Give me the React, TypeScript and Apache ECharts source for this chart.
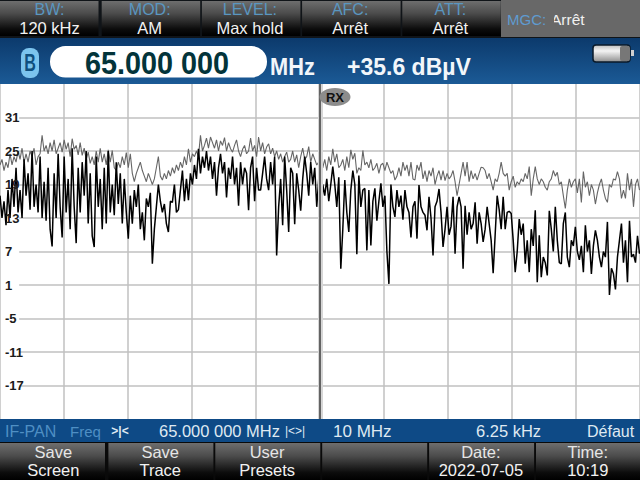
import React, { useEffect, useRef } from "react";
import * as echarts from "echarts";

const yTicks = [-17, -11, -5, 1, 7, 13, 19, 25, 31];
const gridRows = [-17, -11, -5, 1, 7, 13, 19, 25, 31];
const centerFreq = 65;
const spanStart = 60;
const spanEnd = 70;

const maxHold = [
  22.5,23.5,21.5,23,22,24.5,22.5,24,23,25,23.5,25.5,23,24.5,23,25,24,25.5,22.5,24,
  24.5,27.8,25,26,24.5,26.5,25,27,24.5,25.5,26.5,24.8,27,25.3,26.5,24,27.2,25.3,26,24.3,
  26.5,24.2,25.5,23.5,24.8,22.8,24,22.5,25,23,25.5,23,24.5,22.5,25.2,23,25.1,22,21.5,23,
  22,24,22.5,24.7,22,24.5,21,19.5,21,22,23,21.5,20.5,19.5,21,20,19,20,22,24,
  20.5,19.8,21,20,21.5,20.5,22,21,22.5,21.5,23,22,24,22.5,25.4,23,24.5,24,25,24,
  27.8,25,26,27.3,25.5,27.5,26.5,25.5,27,25,26.8,26,27.4,25,26.5,25.4,24.8,26,27,25,
  24,25.3,26,24.5,25,27.3,25,26,24,27.5,25,26.5,24.5,25.7,26.3,24.5,25.5,24,25,23.5,
  24.5,23,24,24.8,23,23.5,25,23,24.3,22,24,25.5,23.5,24,25.8,23,24.5,23.5,22.5,23,
  23.3,22,23.5,21.5,24,22.5,25.4,23,24.5,22,22.5,23.5,21.5,24,22,25.2,23.5,24.6,21,22,
  21.5,25.1,22.5,23,22,23.5,21.5,22,22.8,21,22.5,22.8,21.5,23,22,21,21.5,19.8,20.5,22,
  20.5,23,21.5,22.5,20.5,23,20,19.8,22.5,21.5,23,20,21.5,19.5,21.5,20.5,22,19,20.5,21.5,
  19.8,21.5,19.7,21,20,20.5,21.5,19.5,17,19,21,23,20.5,23,19.5,21.5,20,21,19.8,21,
  22.1,22,21.5,20,21,19.5,18,20,19.5,21,23,21,20.5,21,18,19.5,20.5,18.5,19.5,19,
  20,19.5,21,20,22.2,17,20,22.2,20,19,20,19.5,18.5,18,19.5,20,21.5,20.5,21.2,19,
  19.5,17,14.7,18,20,18.5,19.5,20,17.5,20,15.8,21.3,18.5,19.5,17,19,18,15.5,17.5,19,
  20,18,16.5,15.8,19,18.5,20,19.8,21.3,20,16.5,18,16.5,21,18,20,15,19,20,18,
];

const clearWrite = [
  17,13,16,11.7,18,13,20,15,22,14,18,13,23.5,17,21,14.5,25,15,19,14,
  24,13,19.5,12.5,22,11,7.9,21,13,24.5,15,9.5,24,14,20,11,25.5,15,8.5,22,
  14,23,17,25,12,21,9.8,7.8,24,15,20,11,22,12,25,14,19,13.5,23,15.5,
  21,12,20,14,9.3,17,12,18,15,19,11,14,9,16.5,15,17.5,4.8,11,15,19,
  16,14,15.5,12,10.5,16,15.8,19,14,14.5,18,21.5,16,20,16.2,21,19,22.5,20,25.4,
  21,24,22,25,21.5,24,20,23,17,22,24.5,21,23,16.7,22,20,24,19,22,15.2,
  23,19,22,21,14.4,22,24,16,22,18,18,21,24,20,18,23,19,24,6.3,15,
  20,11.7,24,18,10.5,22,21,11.9,21,18,14.3,20,24,21,17,23,19,22,15,20,
  9.9,19,17,20,16,19,22.2,19,15,20.3,3.9,11,19.8,14,10.5,18,21.5,19,6.5,20.6,
  15,18,18.3,7.2,18,8.1,16,18.3,12.5,16,19.2,15,17,7,1.2,19,15,13.2,18,15,
  17,12.7,18,15,14,9.5,15,16,9.3,18.9,15,14,13.5,10.8,16.8,13,6.3,15,16,18.2,
  14,7.8,11,15,10,11.5,16.8,6.6,15,16.8,15,3.9,15.2,10,14,11,12,15.8,8.4,14,
  12,8.7,11,15,12,9,3.1,10,17,14.5,11,16.8,11,14,14.2,13.8,9,3.3,7,12.8,
  10,12,4.8,9,3.3,11,8,14.4,1.5,9.9,2.4,6,5,2.7,14.3,11,7,15,9,5,
  4.8,12,14,6,4.2,9,8,11.4,7,5.5,8,3.3,11.7,7,9,3,8,10.8,9,6,
  4.2,7,6,12.3,-0.8,4,3,0.2,6,9,12,5,9,1.5,12.5,6,6.5,5,9.8,6.6,
];

const topTabs = [
  ["BW:", "120 kHz"],
  ["MOD:", "AM"],
  ["LEVEL:", "Max hold"],
  ["AFC:", "Arrêt"],
  ["ATT:", "Arrêt"],
];
const softKeys = [
  ["Save", "Screen"],
  ["Save", "Trace"],
  ["User", "Presets"],
  ["", ""],
  ["Date:", "2022-07-05"],
  ["Time:", "10:19"],
];

const FONT = '"Liberation Sans"';

function txt(text: string, x: number, y: number, fill: string, font: string, align = "center", scaleX = 1) {
  return {
    type: "text",
    x,
    y,
    scaleX,
    z: 50,
    silent: true,
    style: { text, fill, font, align, verticalAlign: "middle" },
  };
}
function box(x: number, y: number, width: number, height: number, fill: any, r = 0, extra: any = {}) {
  return { type: "rect", z: 40, silent: true, shape: { x, y, width, height, r }, style: { fill, ...extra } };
}
const grad = (stops: [number, string][]) =>
  new echarts.graphic.LinearGradient(0, 0, 0, 1, stops.map(([offset, color]) => ({ offset, color })));

function chrome() {
  const g: any[] = [];
  const keyFill = grad([[0, "#6e6e6e"], [0.35, "#4c4c4c"], [0.8, "#0c0c0c"], [1, "#000000"]]);
  g.push(box(0, 0, 640, 38, "#101418"));
  topTabs.forEach(([label, value], i) => {
    const x = i * 100.2;
    g.push(box(x + (i ? 1.5 : 0), 1, 98.5, 35, keyFill));
    g.push(txt(label, x + 49.5, 9, "#5a96c0", `16px ${FONT}`));
    g.push(txt(value, x + 49.5, 27.5, "#f2f2f2", `16.5px ${FONT}`));
  });
  g.push(box(501, 0, 139, 37, "#686868"));
  g.push(txt("MGC:", 507, 19, "#5f9bd0", `15px ${FONT}`, "left"));
  g.push(txt("Arrêt", 551, 19, "#f0f0f0", `15.5px ${FONT}`, "left"));
  g.push({ ...box(546, 5, 8, 26, "#686868"), z: 51 });

  g.push(box(0, 38, 640, 46, grad([[0, "#0c3a6c"], [1, "#1b5a96"]])));
  g.push(box(21, 48, 18, 30, "#7cc4ee", 8));
  g.push(txt("B", 30, 63, "#0f4f7e", `bold 23px ${FONT}`, "center", 0.7));
  g.push(box(50, 46, 217, 31.5, "#ffffff", 15.5));
  g.push(txt("65.000 000", 157, 62.5, "#03343a", `bold 32px ${FONT}`, "center", 0.9));
  g.push(txt("MHz", 270, 67, "#f2f6fa", `bold 23px ${FONT}`, "left", 0.95));
  g.push(txt("+35.6 dBµV", 347, 67, "#f2f6fa", `bold 23px ${FONT}`, "left"));
  g.push(box(593, 45, 37, 17, grad([[0, "#bdbdbd"], [0.35, "#f4f4f4"], [1, "#8f8f8f"]]), 3, { stroke: "#0a1a2a", lineWidth: 1.5 }));
  g.push(box(620, 46, 10, 15, "#777777", 2));
  g.push(box(631, 50, 3, 6, "#d0d0d0"));

  g.push({ type: "ellipse", z: 60, silent: true, shape: { cx: 335, cy: 97, rx: 15.5, ry: 9 }, style: { fill: "#8c8c8c" } });
  g.push({ ...txt("RX", 335, 97.5, "#111111", `bold 13px ${FONT}`), z: 61 });

  g.push(box(0, 419, 640, 23, "#0e4a86"));
  g.push(txt("IF-PAN", 5, 431, "#4f8fc4", `16px ${FONT}`, "left"));
  g.push(txt("Freq", 70, 431, "#4f8fc4", `15px ${FONT}`, "left"));
  g.push(txt(">|<", 120, 431, "#dfe9f2", `bold 12px ${FONT}`));
  g.push(txt("65.000 000 MHz", 159, 431, "#dfe9f2", `17px ${FONT}`, "left", 0.97));
  g.push(txt("|<>|", 295, 431, "#dfe9f2", `12px ${FONT}`));
  g.push(txt("10 MHz", 333, 431, "#dfe9f2", `17px ${FONT}`, "left"));
  g.push(txt("6.25 kHz", 476, 431, "#dfe9f2", `17px ${FONT}`, "left", 0.97));
  g.push(txt("Défaut", 587, 431, "#dfe9f2", `16px ${FONT}`, "left"));

  g.push(box(0, 442, 640, 38, "#0a0a0a"));
  softKeys.forEach(([a, b], i) => {
    const x = i * 106.9;
    g.push(box(x + (i ? 1.5 : 0), 443, 105, 37, keyFill));
    if (a) {
      g.push(txt(a, x + 53.3, 452, "#e6e6e6", `16.5px ${FONT}`));
      g.push(txt(b, x + 53.3, 470, "#f2f2f2", `16.5px ${FONT}`));
    }
  });
  return g;
}

const toPairs = (vals: number[]) =>
  vals.map((v, i) => [spanStart + (i * (spanEnd - spanStart)) / (vals.length - 1), v]);

export default function App() {
  const ref = useRef<HTMLDivElement>(null);
  useEffect(() => {
    const chart = echarts.init(ref.current!, null, { renderer: "svg" });
    chart.setOption({
      animation: false,
      backgroundColor: "#ffffff",
      grid: { left: -0.5, right: 0.5, top: 84, bottom: 61 },
      xAxis: {
        type: "value",
        min: spanStart,
        max: spanEnd,
        interval: 1,
        axisLine: { show: false },
        axisTick: { show: false },
        axisLabel: { show: false },
        splitLine: { show: true, lineStyle: { color: "#c0c0c0", width: 1.5 } },
      },
      yAxis: {
        type: "value",
        min: -23,
        max: 37,
        z: 5,
        axisLine: { show: false },
        axisTick: { show: false },
        splitLine: { show: false },
        axisLabel: {
          inside: true,
          margin: 5,
          color: "#1c1c1c",
          fontFamily: FONT,
          fontWeight: "bold",
          fontSize: 13,
          customValues: yTicks,
        },
      },
      graphic: chrome(),
      series: [
        {
          type: "line",
          name: "Max hold",
          data: toPairs(maxHold),
          showSymbol: false,
          z: 3,
          lineStyle: { color: "#666666", width: 1.1 },
          markLine: {
            silent: true,
            symbol: "none",
            label: { show: false },
            z: 1,
            lineStyle: { type: "solid", color: "#c0c0c0", width: 1.5 },
            data: gridRows.map((v) => [
              { coord: [spanStart + 0.3, v] },
              { coord: [spanEnd, v] },
            ]),
          },
        },
        {
          type: "line",
          name: "Clear write",
          data: toPairs(clearWrite),
          showSymbol: false,
          z: 4,
          lineStyle: { color: "#000000", width: 1.5 },
          markLine: {
            silent: true,
            symbol: "none",
            label: { show: false },
            z: 6,
            data: [
              { xAxis: centerFreq, lineStyle: { type: "solid", color: "#d6d6d6", width: 5 } },
              { xAxis: centerFreq, lineStyle: { type: "solid", color: "#3c3c3c", width: 1.5 } },
            ],
          },
        },
      ],
    });
    return () => chart.dispose();
  }, []);
  return <div ref={ref} style={{ position: "fixed", left: 0, top: 0, width: 640, height: 480 }} />;
}
